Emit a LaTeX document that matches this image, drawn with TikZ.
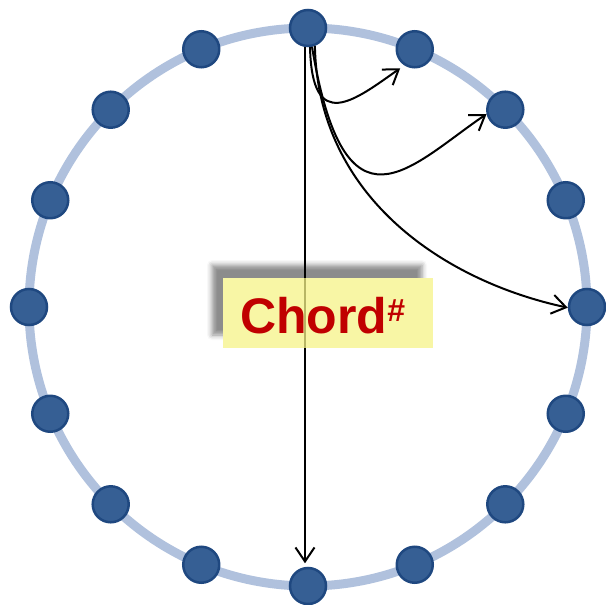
\documentclass[tikz,border=0pt]{standalone}
\usepackage{fontspec}
\setmainfont{Liberation Sans}
\usetikzlibrary{arrows.meta,shadows.blur}
\definecolor{ringc}{RGB}{176,193,221}
\definecolor{dotfill}{RGB}{54,95,148}
\definecolor{dotline}{RGB}{31,72,128}
\definecolor{chordred}{RGB}{192,0,0}
\definecolor{labelyellow}{RGB}{246,243,135}
\begin{document}
\begin{tikzpicture}[x=1pt,y=-1pt,
  ring/.style={draw=ringc, line width=9pt},
  dot/.style={circle, minimum size=36pt, inner sep=0pt, fill=dotfill, draw=dotline, line width=2.5pt},
  arr/.style={draw=black, line width=2pt, -{Straight Barb[length=14pt,width=19pt]}},
  backbox/.style={fill=white, minimum width=210pt, minimum height=70pt, inner sep=0pt,
    blur shadow={shadow xshift=-11pt, shadow yshift=13pt, shadow opacity=45, shadow blur radius=5pt}},
  labelbox/.style={fill=labelyellow, fill opacity=0.75, minimum width=210pt, minimum height=70pt, inner sep=0pt},
  labeltext/.style={anchor=base west, inner sep=0pt, text=chordred, font=\bfseries\fontsize{50}{50}\selectfont}
]
\useasboundingbox (0,0) rectangle (606,605);
\draw[ring] (308,307) circle[radius=279pt];
\foreach \i in {0,...,15}
  \node[dot] (n\i) at ({308+279*sin(\i*22.5)},{307-279*cos(\i*22.5)}) {};
\node[backbox] (bg) at (328,313) {};
\draw[arr, shorten >=3.5pt] (n0.-99) -- (n0.-99 |- n8.north);
\draw[arr, shorten >=5pt] (n0.-84) .. controls (312,135) and (355,100) .. (n1.-123);
\draw[arr] (n0.-78) .. controls (345,245) and (410,166) .. (n2.-167);
\draw[arr] (n0.-69) .. controls (318,200) and (448,282) .. (n4.182);
\node[labelbox] (lbl) at (328,313) {};
\node[labeltext] (txt) at (240,333) {Chord\raisebox{12pt}{\fontsize{32}{32}\selectfont\#}};
\end{tikzpicture}
\end{document}
